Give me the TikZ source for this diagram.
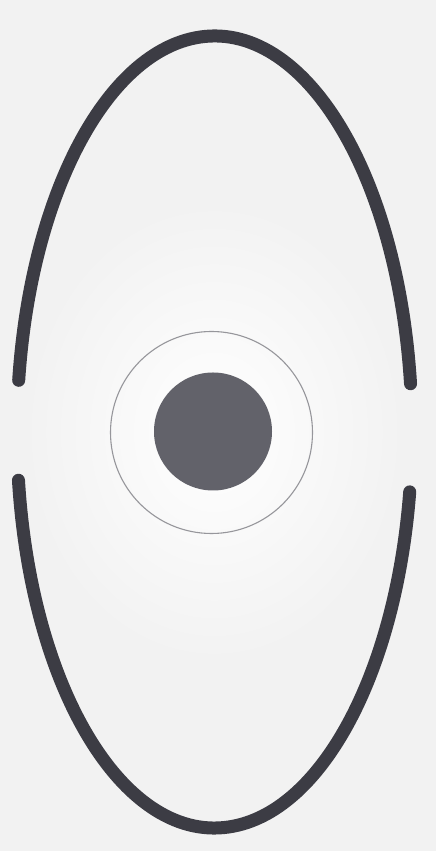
\documentclass[tikz,border=0pt]{standalone}
\usepackage{tikz}
\definecolor{paper}{RGB}{242,242,242}
\definecolor{pencil}{RGB}{60,60,68}
\definecolor{shade}{RGB}{98,98,106}
\definecolor{thin}{RGB}{150,150,155}
\tikzset{
  arcline/.style={draw=pencil,line width=13pt,line cap=round},
  ringline/.style={draw=thin,line width=1.1pt},
  dotfill/.style={fill=shade,draw=none}
}
\begin{document}
\begin{tikzpicture}[x=1pt,y=1pt]
  \fill[paper] (0,0) rectangle (436,851);
  \useasboundingbox (0,0) rectangle (436,851);
  \shade[inner color=white,outer color=paper] (214,419) ellipse (190 and 230);
  \coordinate (c) at (214.5,419);
  % upper arc
  \draw[arcline] ([shift={(7:197.5pt and 396pt)}]c) arc[start angle=7,end angle=172.5,x radius=197.5pt,y radius=396pt];
  % lower arc
  \draw[arcline] ([shift={(187:197.5pt and 396pt)}]c) arc[start angle=187,end angle=351.3,x radius=197.5pt,y radius=396pt];
  % ring and dot
  \node[circle,ringline,minimum size=202pt,inner sep=0pt] (ring) at (211.5,418.5) {};
  \node[circle,dotfill,minimum size=118pt,inner sep=0pt] (dot) at (213,419.5) {};
\end{tikzpicture}
\end{document}
